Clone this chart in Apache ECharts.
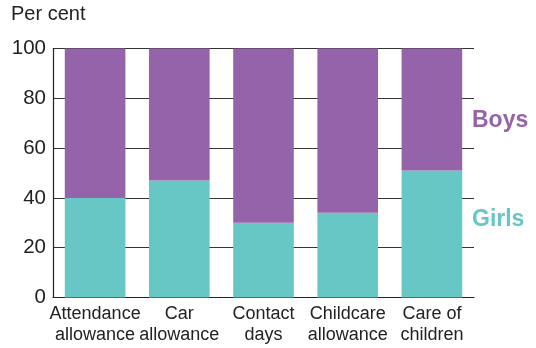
<!DOCTYPE html>
<html><head><meta charset="utf-8">
<script src="https://cdn.jsdelivr.net/npm/echarts@6/dist/echarts.min.js"></script>
<style>html,body{margin:0;padding:0;background:#fff}#c{width:536px;height:348px}</style>
</head><body><div id="c"></div>
<script>
const categories = ['Attendance\nallowance', 'Car\nallowance', 'Contact\ndays', 'Childcare\nallowance', 'Care of\nchildren'];
const girls = [40, 47, 30, 34, 51];
const boys = [60, 53, 70, 66, 49];
const yTicks = [0, 20, 40, 60, 80, 100];

const FONT = '"Liberation Sans", Arial, sans-serif';
const PURPLE = '#9563a9', TEAL = '#66c7c4';
const chart = echarts.init(document.getElementById('c'), null, {renderer: 'canvas'});
chart.setOption({
  animation: false,
  backgroundColor: '#fff',
  grid: {left: 53, right: 62, top: 48.5, bottom: 50.5, containLabel: false},
  xAxis: {
    type: 'category', data: categories,
    axisLine: {show: true, lineStyle: {color: '#222', width: 1.2}},
    axisTick: {show: false},
    axisLabel: {color: '#222', fontFamily: FONT, fontSize: 18, lineHeight: 21, margin: 6, interval: 0}
  },
  yAxis: {
    type: 'value', min: yTicks[0], max: yTicks[yTicks.length - 1], interval: 20,
    axisLine: {show: true, lineStyle: {color: '#222', width: 1.2}},
    axisTick: {show: false},
    splitLine: {show: true, lineStyle: {color: '#333', width: 1}},
    axisLabel: {color: '#222', fontFamily: FONT, fontSize: 20.5, margin: 7}
  },
  series: [
    {name: 'Girls', type: 'bar', stack: 'a', data: girls, barWidth: '72%', itemStyle: {color: TEAL}},
    {name: 'Boys', type: 'bar', stack: 'a', data: boys, barWidth: '72%', itemStyle: {color: PURPLE}}
  ],
  graphic: [
    {type: 'text', left: 11, top: 4, style: {text: 'Per cent', fontFamily: FONT, fontSize: 20, fill: '#222'}},
    {type: 'text', left: 472, top: 109, style: {text: 'Boys', fontFamily: FONT, fontSize: 23, fontWeight: 'bold', fill: PURPLE}},
    {type: 'text', left: 472, top: 208, style: {text: 'Girls', fontFamily: FONT, fontSize: 23, fontWeight: 'bold', fill: TEAL}}
  ]
});
</script></body></html>
